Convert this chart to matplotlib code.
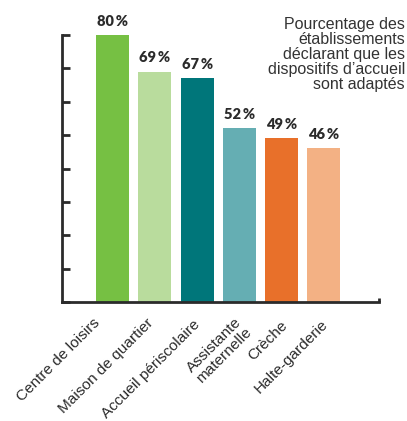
import matplotlib
matplotlib.use("Agg")
import matplotlib.pyplot as plt
import matplotlib.transforms as mtransforms

# data
categories = ["Centre de loisirs", "Maison de quartier", "Accueil périscolaire",
              "Assistante\nmaternelle", "Crèche", "Halte-garderie"]
values = [80, 69, 67, 52, 49, 46]
bar_colors = ["#76c043", "#b9dc9d", "#00767a", "#65aeb3", "#e8702a", "#f3b184"]
y_ticks = [0, 10, 20, 30, 40, 50, 60, 70, 80]
title = "Pourcentage des\nétablissements\ndéclarant que les\ndispositifs d\u2019accueil\nsont adaptés"

# hand nudges of the category labels (points), as in the original layout
label_nudge = [(-11, 0), (-3, 0), (0, -1), (0, 1), (2, -2), (1, -1)]

dark = "#2b2b2b"

fig = plt.figure(figsize=(4.07, 4.21), dpi=100)
W, H = 407, 421
ax = fig.add_axes([62 / W, 1 - 302 / H, (379 - 62) / W, (302 - 35) / H])

x = list(range(len(categories)))
ax.bar(x, values, width=0.78, color=bar_colors, zorder=2)

for xi, v in zip(x, values):
    ax.text(xi, v + 2.2, f"{v}\u2009%", ha="center", va="bottom",
            fontsize=10.5, fontweight="heavy", family=["Lato", "DejaVu Sans"], color=dark)

ax.set_xlim(-1.2, len(categories) - 1 + 1.31)
ax.set_ylim(0, 80)

ax.set_yticks(y_ticks)
ax.set_yticklabels([])
ax.tick_params(axis="y", direction="in", length=6, width=2, color=dark)

ax.set_xticks(x)
ax.set_xticklabels(categories, rotation=45, ha="right", rotation_mode="anchor",
                   fontsize=11.1, family=["Liberation Sans"], color=dark,
                   multialignment="center", linespacing=1.05)
ax.tick_params(axis="x", length=0, pad=10)
for lab, (dx, dy) in zip(ax.get_xticklabels(), label_nudge):
    shift = mtransforms.ScaledTranslation((dx - 3) / 72, dy / 72, fig.dpi_scale_trans)
    lab.set_transform(lab.get_transform() + shift)

for s in ["top", "right"]:
    ax.spines[s].set_visible(False)
for s in ["left", "bottom"]:
    ax.spines[s].set_linewidth(2)
    ax.spines[s].set_color(dark)

# small end tick on the right of the baseline
ax.plot([1, 1], [0, 0.015], transform=ax.transAxes, color=dark, lw=2,
        clip_on=False, solid_capstyle="butt")

fig.text(405 / W, 1 - 17 / H, title, ha="right", va="top", fontsize=11.5,
         family=["Liberation Sans"], color="#333333", linespacing=1.0)

fig.savefig("out.png", dpi=100)
